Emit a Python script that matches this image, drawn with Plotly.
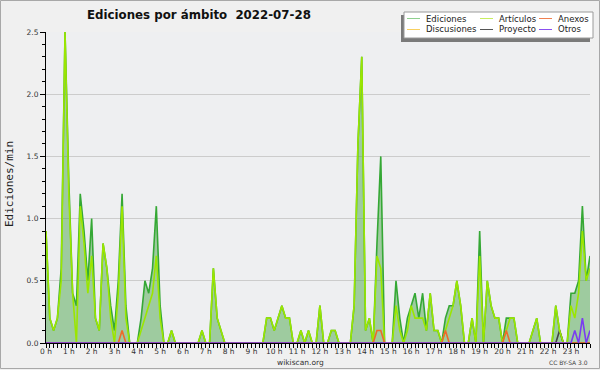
import plotly.graph_objects as go

# ---- data: 10-minute slots over the day (values in edits/min) ----
minutes = list(range(0, 1440, 10))
hour_ticks = list(range(24))
hour_labels = [f"{h} h" for h in hour_ticks]

ediciones = [
    0.9, 0.2, 0.1, 0.2, 0.6, 2.5, 1.3, 0.4, 0.3, 1.2, 0.9, 0.5,
    1.0, 0.2, 0.1, 0.8, 0.6, 0.3, 0.1, 0.5, 1.2, 0.3, 0.0, 0.0,
    0.0, 0.2, 0.5, 0.4, 0.6, 1.1, 0.3, 0.0, 0.0, 0.1, 0.0, 0.0,
    0.0, 0.0, 0.0, 0.0, 0.0, 0.1, 0.0, 0.0, 0.6, 0.2, 0.1, 0.0,
    0.0, 0.0, 0.0, 0.0, 0.0, 0.0, 0.0, 0.0, 0.0, 0.0, 0.2, 0.2,
    0.1, 0.2, 0.3, 0.2, 0.2, 0.0, 0.0, 0.1, 0.0, 0.1, 0.0, 0.0,
    0.3, 0.0, 0.0, 0.1, 0.1, 0.0, 0.0, 0.0, 0.0, 0.3, 1.6, 2.3,
    0.1, 0.2, 0.0, 0.8, 1.5, 0.0, 0.0, 0.0, 0.5, 0.2, 0.0, 0.2,
    0.3, 0.4, 0.2, 0.4, 0.1, 0.4, 0.1, 0.1, 0.0, 0.2, 0.3, 0.3,
    0.5, 0.3, 0.0, 0.0, 0.2, 0.0, 0.9, 0.0, 0.5, 0.3, 0.2, 0.2,
    0.0, 0.2, 0.2, 0.2, 0.0, 0.0, 0.0, 0.0, 0.1, 0.2, 0.0, 0.0,
    0.0, 0.0, 0.3, 0.1, 0.0, 0.0, 0.4, 0.4, 0.5, 1.1, 0.5, 0.7,
]

articulos = [
    0.9, 0.2, 0.1, 0.2, 0.5, 2.5, 1.2, 0.4, 0.0, 1.1, 0.8, 0.4,
    0.7, 0.2, 0.1, 0.8, 0.6, 0.2, 0.0, 0.4, 1.1, 0.2, 0.0, 0.0,
    0.0, 0.1, 0.2, 0.3, 0.4, 0.7, 0.2, 0.0, 0.0, 0.1, 0.0, 0.0,
    0.0, 0.0, 0.0, 0.0, 0.0, 0.1, 0.0, 0.0, 0.6, 0.2, 0.1, 0.0,
    0.0, 0.0, 0.0, 0.0, 0.0, 0.0, 0.0, 0.0, 0.0, 0.0, 0.2, 0.2,
    0.1, 0.2, 0.3, 0.2, 0.2, 0.0, 0.0, 0.1, 0.0, 0.1, 0.0, 0.0,
    0.3, 0.0, 0.0, 0.1, 0.1, 0.0, 0.0, 0.0, 0.0, 0.3, 1.6, 2.3,
    0.1, 0.2, 0.0, 0.7, 0.6, 0.0, 0.0, 0.0, 0.3, 0.1, 0.0, 0.1,
    0.3, 0.2, 0.2, 0.2, 0.1, 0.4, 0.1, 0.1, 0.0, 0.1, 0.2, 0.3,
    0.5, 0.3, 0.0, 0.0, 0.2, 0.0, 0.7, 0.0, 0.5, 0.3, 0.2, 0.2,
    0.0, 0.1, 0.2, 0.2, 0.0, 0.0, 0.0, 0.0, 0.1, 0.2, 0.0, 0.0,
    0.0, 0.0, 0.3, 0.1, 0.0, 0.0, 0.3, 0.2, 0.4, 0.9, 0.5, 0.6,
]

anexos = [
    0, 0, 0, 0, 0, 0, 0, 0, 0, 0, 0, 0,
    0, 0, 0, 0, 0, 0, 0, 0, 0.1, 0, 0, 0,
    0, 0, 0, 0, 0, 0, 0, 0, 0, 0, 0, 0,
    0, 0, 0, 0, 0, 0, 0, 0, 0, 0, 0, 0,
    0, 0, 0, 0, 0, 0, 0, 0, 0, 0, 0, 0,
    0, 0, 0, 0, 0, 0, 0, 0, 0, 0, 0, 0,
    0, 0, 0, 0, 0, 0, 0, 0, 0, 0, 0, 0,
    0, 0, 0, 0.1, 0.1, 0, 0, 0, 0, 0, 0, 0,
    0, 0, 0, 0, 0, 0, 0, 0, 0, 0.1, 0, 0,
    0, 0, 0, 0, 0, 0, 0, 0, 0, 0, 0, 0,
    0, 0.1, 0, 0, 0, 0, 0, 0, 0, 0, 0, 0,
    0, 0, 0, 0, 0, 0, 0, 0, 0, 0, 0, 0,
]

discusiones = [
    0, 0, 0, 0, 0, 0, 0, 0, 0, 0, 0, 0,
    0, 0, 0, 0, 0, 0, 0, 0, 0, 0, 0, 0,
    0, 0, 0, 0, 0, 0, 0, 0, 0, 0, 0, 0,
    0, 0, 0, 0, 0, 0, 0, 0, 0, 0, 0, 0,
    0, 0, 0, 0, 0, 0, 0, 0, 0, 0, 0, 0,
    0, 0, 0, 0, 0, 0, 0, 0, 0, 0, 0, 0,
    0, 0, 0, 0, 0, 0, 0, 0, 0, 0, 0, 0,
    0, 0, 0, 0, 0, 0, 0, 0, 0, 0, 0, 0,
    0, 0, 0, 0, 0, 0, 0, 0, 0, 0, 0, 0,
    0, 0, 0, 0, 0, 0, 0, 0, 0, 0, 0, 0,
    0, 0, 0, 0, 0, 0, 0, 0, 0, 0, 0, 0,
    0, 0, 0, 0, 0, 0, 0, 0, 0, 0, 0, 0,
]

proyecto = [
    0, 0, 0, 0, 0, 0, 0, 0, 0, 0, 0, 0,
    0, 0, 0, 0, 0, 0, 0, 0, 0, 0, 0, 0,
    0, 0, 0, 0, 0, 0, 0, 0, 0, 0, 0, 0,
    0, 0, 0, 0, 0, 0, 0, 0, 0, 0, 0, 0,
    0, 0, 0, 0, 0, 0, 0, 0, 0, 0, 0, 0,
    0, 0, 0, 0, 0, 0, 0, 0, 0, 0, 0, 0,
    0, 0, 0, 0, 0, 0, 0, 0, 0, 0, 0, 0,
    0, 0, 0, 0, 0, 0, 0, 0, 0, 0, 0, 0,
    0, 0, 0, 0, 0, 0, 0, 0, 0, 0, 0, 0,
    0, 0, 0, 0, 0, 0, 0, 0, 0, 0, 0, 0,
    0, 0, 0, 0, 0, 0, 0, 0, 0, 0, 0, 0,
    0, 0, 0, 0.1, 0, 0, 0, 0, 0, 0, 0, 0,
]

otros = [
    0, 0, 0, 0, 0, 0, 0, 0, 0, 0, 0, 0,
    0, 0, 0, 0, 0, 0, 0, 0, 0, 0, 0, 0,
    0, 0, 0, 0, 0, 0, 0, 0, 0, 0, 0, 0,
    0, 0, 0, 0, 0, 0, 0, 0, 0, 0, 0, 0,
    0, 0, 0, 0, 0, 0, 0, 0, 0, 0, 0, 0,
    0, 0, 0, 0, 0, 0, 0, 0, 0, 0, 0, 0,
    0, 0, 0, 0, 0, 0, 0, 0, 0, 0, 0, 0,
    0, 0, 0, 0, 0, 0, 0, 0, 0, 0, 0, 0,
    0, 0, 0, 0, 0, 0, 0, 0, 0, 0, 0, 0,
    0, 0, 0, 0, 0, 0, 0, 0, 0, 0, 0, 0,
    0, 0, 0, 0, 0, 0, 0, 0, 0, 0, 0, 0,
    0, 0, 0, 0, 0, 0, 0, 0.1, 0, 0.2, 0, 0.1,
]

series_names = ["Ediciones", "Artículos", "Anexos", "Discusiones", "Proyecto", "Otros"]

# ---- styling ----
W, H = 600, 370
L, R, T, B = 46, 10, 32, 27
PW, PH = W - L - R, H - T - B
FONT = "DejaVu Sans"

def px(x):
    return (x - L) / PW

def py(y):
    return (H - B - y) / PH

colors = {
    "Ediciones": "#35a835",
    "Artículos": "#9be600",
    "Anexos": "#ee6a2a",
    "Discusiones": "#f5c83a",
    "Proyecto": "#444444",
    "Otros": "#7a3cf0",
}
legend_colors = {
    "Ediciones": "#8fd08f",
    "Artículos": "#c8ee60",
    "Anexos": "#f08050",
    "Discusiones": "#f8d060",
    "Proyecto": "#555555",
    "Otros": "#8a50f0",
}

hours = [m / 60 for m in minutes]

fig = go.Figure()
fig.add_trace(go.Scatter(
    x=hours, y=ediciones, name="Ediciones", mode="lines",
    line=dict(color=colors["Ediciones"], width=1.6),
    fill="tozeroy", fillcolor="rgba(60,160,60,0.45)", showlegend=False))
for name, vals in [("Discusiones", discusiones), ("Proyecto", proyecto),
                   ("Artículos", articulos), ("Anexos", anexos), ("Otros", otros)]:
    fig.add_trace(go.Scatter(
        x=hours, y=vals, name=name, mode="lines",
        line=dict(color=colors[name], width=1.6), showlegend=False))

shapes = []
annotations = []

# outer frame
shapes.append(dict(type="rect", xref="paper", yref="paper",
                   x0=px(0.5), x1=px(599.5), y0=py(368.5), y1=py(0.5),
                   line=dict(color="#a8a8a8", width=1), fillcolor="rgba(0,0,0,0)",
                   layer="below"))

# legend box with shadow
shapes.append(dict(type="rect", xref="paper", yref="paper",
                   x0=px(401), x1=px(590), y0=py(42), y1=py(15),
                   line=dict(width=0), fillcolor="#7a7a7a", layer="above"))
shapes.append(dict(type="rect", xref="paper", yref="paper",
                   x0=px(404), x1=px(593), y0=py(38), y1=py(12),
                   line=dict(color="#9a9a9a", width=1), fillcolor="#ffffff", layer="above"))

legend_layout = [
    ("Ediciones", 407, 424, 18.5), ("Artículos", 480, 497, 18.5), ("Anexos", 539, 556, 18.5),
    ("Discusiones", 407, 424, 29.5), ("Proyecto", 480, 497, 29.5), ("Otros", 539, 556, 29.5),
]
for name, lx, tx, ly in legend_layout:
    shapes.append(dict(type="line", xref="paper", yref="paper",
                       x0=px(lx), x1=px(lx + 13), y0=py(ly), y1=py(ly),
                       line=dict(color=legend_colors[name], width=1), layer="above"))
    annotations.append(dict(text=name, xref="paper", yref="paper",
                            x=px(tx), y=py(ly), xanchor="left", yanchor="middle",
                            showarrow=False, font=dict(family=FONT, size=8.5, color="#222")))

# title
annotations.append(dict(text="<b>Ediciones por ámbito  2022-07-28</b>", xref="paper", yref="paper",
                        x=px(85), y=py(15), xanchor="left", yanchor="middle", showarrow=False,
                        font=dict(family=FONT, size=11.8, color="#111")))
# y axis title
annotations.append(dict(text="Ediciones/min", xref="paper", yref="paper",
                        x=px(9), y=py(184), xanchor="center", yanchor="middle", textangle=-90,
                        showarrow=False, font=dict(family="DejaVu Sans Mono", size=11, color="#222")))
# footer
annotations.append(dict(text="wikiscan.org", xref="paper", yref="paper",
                        x=px(300.5), y=py(362), xanchor="center", yanchor="middle", showarrow=False,
                        font=dict(family=FONT, size=7.5, color="#333")))
annotations.append(dict(text="CC BY-SA 3.0", xref="paper", yref="paper",
                        x=px(590), y=py(362), xanchor="right", yanchor="middle", showarrow=False,
                        font=dict(family=FONT, size=6, color="#444")))

fig.update_layout(
    width=W, height=H, autosize=False,
    margin=dict(l=L, r=R, t=T, b=B, pad=0),
    paper_bgcolor="#f0f0f0", plot_bgcolor="#eeeff1",
    showlegend=False,
    shapes=shapes, annotations=annotations,
    font=dict(family=FONT, size=8, color="#333"),
)
fig.update_xaxes(
    range=[0, minutes[-1] / 60], tickmode="array", tickvals=hour_ticks, ticktext=hour_labels,
    showgrid=False, zeroline=False, showline=True, linecolor="black", linewidth=1,
    ticks="outside", ticklen=4, tickwidth=1, tickcolor="black",
    ticklabelstandoff=-3,
    tickfont=dict(family=FONT, size=7.5, color="#333"),
    minor=dict(dtick=1 / 6, tick0=0, ticks="outside", ticklen=4, tickwidth=1,
               tickcolor="black", showgrid=False),
)
fig.update_yaxes(
    range=[0, 2.5], dtick=0.5, tick0=0, tickformat=".1f",
    showgrid=True, gridcolor="#cccccc", gridwidth=1, zeroline=False,
    showline=True, linecolor="black", linewidth=1,
    ticks="outside", ticklen=5, tickwidth=1, tickcolor="black",
    tickfont=dict(family=FONT, size=7.5, color="#333"),
    minor=dict(dtick=0.1, tick0=0, ticks="outside", ticklen=3, tickwidth=1,
               tickcolor="black", showgrid=False),
)

fig.write_html("out.html", config={"displayModeBar": False},
               post_script="document.body.style.margin='0';document.body.style.padding='0';")
